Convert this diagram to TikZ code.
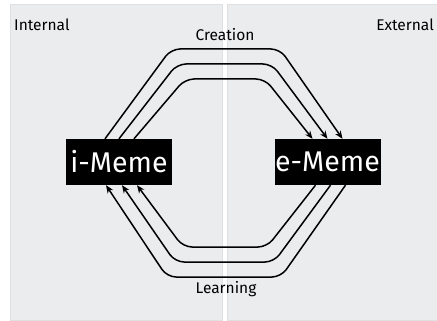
\documentclass[tikz,border=0pt]{standalone}
\usepackage{fontspec}
\setmainfont{Fira Sans}
\definecolor{PanelGrey}{HTML}{EBECEE}
\definecolor{PanelEdge}{HTML}{DFE0E2}
\usetikzlibrary{
  calc,
  positioning,
  arrows.meta
}

\begin{document}
\begin{tikzpicture}[
    x=1pt, y=-1pt,
    panel/.style={draw=PanelEdge, fill=PanelGrey, line width=0.6pt},
    meme/.style={
      rectangle, fill=black, text=white,
      minimum width=106pt, minimum height=46pt,
      inner sep=0pt, font=\fontsize{28.5}{28.5}\selectfont
    },
    flow/.style={-{Stealth[length=8pt, width=6.5pt]}, line width=1.5pt,
      rounded corners=9pt},
    lbl/.style={font=\fontsize{15.5}{15.5}\selectfont, inner sep=0pt}
  ]
    \useasboundingbox (0,0) rectangle (437,321);
    % two halves
    \draw[panel] (10,4) rectangle (222.5,320);
    \draw[panel] (227.5,4) rectangle (437.5,320);

    \node[lbl, anchor=west] (internal) at (14,25) {Internal};
    \node[lbl, anchor=east] (external) at (434,25) {External};
    \node[lbl] (creation) at (225,35) {Creation};
    \node[lbl] (learning) at (226,289) {Learning};

    \node[meme] (imeme) at (119,162) {i-Meme};
    \node[meme] (ememe) at (327.5,162) {e-Meme};

    % creation
    \draw[flow] ([xshift=-14pt]imeme.north) -- (171,49) -- (280,49)
      -- ([xshift=15pt]ememe.north);
    \draw[flow] (imeme.north) -- (177,64) -- (272,64)
      -- (ememe.north);
    \draw[flow] ([xshift=15pt]imeme.north) -- (185,79) -- (265,79)
      -- ([xshift=-15pt]ememe.north);

    % learning
    \draw[flow] ([xshift=18pt]ememe.south) -- (281,277) -- (167,277)
      -- ([xshift=-13pt]imeme.south);
    \draw[flow] ([xshift=3pt]ememe.south) -- (274,262) -- (175,262)
      -- ([xshift=3pt]imeme.south);
    \draw[flow] ([xshift=-12pt]ememe.south) -- (267,247) -- (183,247)
      -- ([xshift=18pt]imeme.south);
  \end{tikzpicture}
\end{document}
